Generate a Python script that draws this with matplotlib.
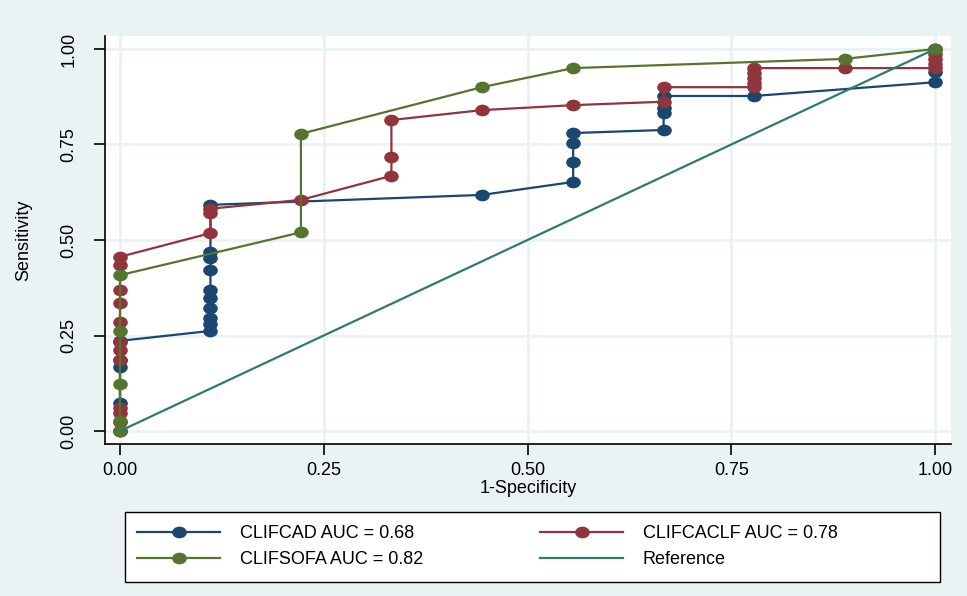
import matplotlib
matplotlib.use('Agg')
import matplotlib.pyplot as plt
from matplotlib.path import Path
from matplotlib.transforms import Affine2D
from matplotlib.patches import Rectangle

plt.rcParams['font.family'] = ['Liberation Sans', 'DejaVu Sans']

# ROC points (1-specificity, sensitivity)
cad_x = [0, 0, 0, 0, 0, 0.111, 0.111, 0.111, 0.111, 0.111, 0.111, 0.111, 0.111, 0.111, 0.111,
         0.444, 0.556, 0.556, 0.556, 0.556, 0.667, 0.667, 0.667, 0.667, 0.778, 1.0, 1.0, 1.0]
cad_y = [0, 0.073, 0.168, 0.186, 0.236, 0.262, 0.280, 0.296, 0.322, 0.348, 0.369, 0.421, 0.453, 0.469, 0.592,
         0.618, 0.652, 0.704, 0.754, 0.780, 0.788, 0.832, 0.845, 0.877, 0.877, 0.913, 0.940, 1.0]

aclf_x = [0, 0, 0, 0, 0, 0, 0, 0, 0, 0, 0, 0, 0.111, 0.111, 0.111, 0.222, 0.333, 0.333, 0.333,
          0.444, 0.556, 0.667, 0.667, 0.778, 0.778, 0.778, 0.778, 0.778, 0.889, 1.0, 1.0, 1.0, 1.0, 1.0]
aclf_y = [0, 0.024, 0.047, 0.060, 0.185, 0.212, 0.233, 0.285, 0.335, 0.369, 0.435, 0.456, 0.518, 0.571, 0.582,
          0.605, 0.668, 0.717, 0.814, 0.840, 0.853, 0.862, 0.900, 0.900, 0.912, 0.925, 0.938, 0.950, 0.950,
          0.950, 0.962, 0.975, 0.988, 1.0]

sofa_x = [0, 0, 0, 0, 0, 0.222, 0.222, 0.444, 0.556, 0.889, 1.0]
sofa_y = [0, 0.025, 0.123, 0.262, 0.408, 0.520, 0.778, 0.900, 0.950, 0.974, 1.0]

ref_x = [0, 1]
ref_y = [0, 1]

labels = ['CLIFCAD AUC = 0.68', 'CLIFCACLF AUC = 0.78', 'CLIFSOFA AUC = 0.82', 'Reference']
ticks = [0, 0.25, 0.5, 0.75, 1.0]
tick_labels = ['0.00', '0.25', '0.50', '0.75', '1.00']

navy = '#1a476f'
maroon = '#90353b'
green = '#55752f'
teal = '#2e7b6e'
bg = '#eaf2f3'

# slightly flattened circle, like the reference markers
circ = Path.unit_circle()
dot = Path(Affine2D().scale(1.0, 0.78).transform(circ.vertices), circ.codes)

fig = plt.figure(figsize=(9.67, 5.96), dpi=100, facecolor=bg)
ax = fig.add_axes([105 / 967, 1 - 444 / 596, 846 / 967, 408 / 596])
ax.set_facecolor('white')

mk = dict(marker=dot, markersize=9.5, linewidth=1.6)
h1, = ax.plot(cad_x, cad_y, color=navy, label=labels[0], **mk)
h2, = ax.plot(aclf_x, aclf_y, color=maroon, label=labels[1], **mk)
h3, = ax.plot(sofa_x, sofa_y, color=green, label=labels[2], **mk)
h4, = ax.plot(ref_x, ref_y, color=teal, linewidth=1.6, label=labels[3])

ax.set_xlim(-0.0184, 1.0196)
ax.set_ylim(-0.034, 1.034)
ax.set_xticks(ticks)
ax.set_xticklabels(tick_labels)
ax.set_yticks(ticks)
ax.set_yticklabels(tick_labels, rotation=90, va='center')
ax.grid(True, color=bg, linewidth=2)
ax.set_axisbelow(True)
for s in ['top', 'right']:
    ax.spines[s].set_visible(False)
for s in ['left', 'bottom']:
    ax.spines[s].set_linewidth(1.2)
ax.tick_params(length=8, width=1.2, labelsize=13)
ax.tick_params(axis='x', pad=5)
ax.tick_params(axis='y', pad=12)

ax.set_xlabel('1-Specificity', fontsize=13, labelpad=1)
ax.set_ylabel('Sensitivity', fontsize=13, labelpad=20)

# legend box drawn by hand, two legends for the two columns
fig.patches.append(Rectangle((125 / 967, 1 - 582 / 596), 815 / 967, 70 / 596,
                             transform=fig.transFigure, facecolor='white',
                             edgecolor='black', linewidth=1.0, zorder=0))
kw = dict(loc='upper left', fontsize=13, frameon=False, handlelength=4.6,
          handletextpad=1.1, labelspacing=0.5, borderpad=0, borderaxespad=0)
fig.legend(handles=[h1, h3], bbox_to_anchor=(137 / 967, 1 - 525 / 596), **kw)
fig.legend(handles=[h2, h4], bbox_to_anchor=(540 / 967, 1 - 525 / 596), **kw)

fig.savefig('out.png', dpi=100, facecolor=bg)
